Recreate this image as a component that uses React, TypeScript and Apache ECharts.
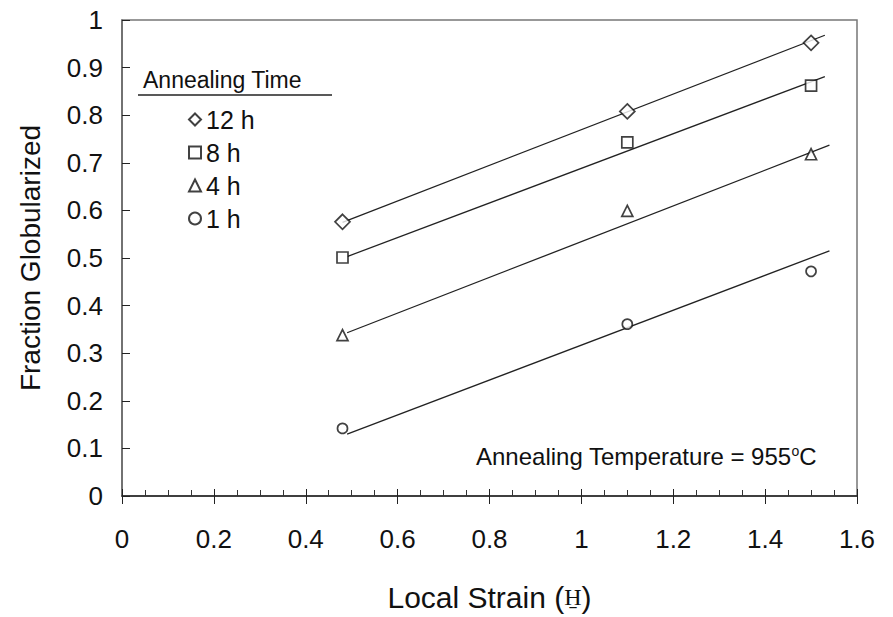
import React, { useEffect, useRef } from "react";
import * as echarts from "echarts";

// Data
const strains = [0.48, 1.1, 1.5];
const seriesNames = ["12 h", "8 h", "4 h", "1 h"];
const frac12h = [0.576, 0.808, 0.952];
const frac8h = [0.501, 0.743, 0.862];
const frac4h = [0.338, 0.599, 0.718];
const frac1h = [0.142, 0.361, 0.472];
const symbols = ["diamond", "rect", "triangle", "circle"];
const symbolSizes = [15, 11, 11, 10];

// Fitted line end points [x, y]
const fit12h = [[0.48, 0.575], [1.53, 0.968]];
const fit8h = [[0.49, 0.503], [1.53, 0.881]];
const fit4h = [[0.49, 0.343], [1.54, 0.737]];
const fit1h = [[0.49, 0.13], [1.54, 0.515]];

const xTicks = { min: 0, max: 1.6, interval: 0.2 };
const yTicks = { min: 0, max: 1, interval: 0.1 };

const FONT = "'Liberation Sans', Arial, sans-serif";

export default function App() {
  const ref = useRef<HTMLDivElement>(null);
  useEffect(() => {
    document.body.style.margin = "0";
    if (!ref.current) return;
    const chart = echarts.init(ref.current, undefined, { renderer: "svg" });
    const fracs = [frac12h, frac8h, frac4h, frac1h];
    const fits = [fit12h, fit8h, fit4h, fit1h];
    const scatterSeries = seriesNames.map((name, i) => ({
      name,
      type: "scatter",
      symbol: symbols[i],
      symbolSize: symbolSizes[i],
      itemStyle: { color: "#fff", borderColor: "#111", borderWidth: 1.7 },
      data: strains.map((x, j) => [x, fracs[i][j]]),
      z: 3,
    }));
    const lineSeries = seriesNames.map((name, i) => ({
      name: name + " fit",
      type: "line",
      symbol: "none",
      lineStyle: { color: "#222", width: 1.3 },
      data: fits[i],
      z: 2,
    }));
    const option = {
      animation: false,
      backgroundColor: "#fff",
      textStyle: { fontFamily: FONT },
      grid: {
        left: 122,
        right: 36,
        top: 20,
        bottom: 118,
        show: true,
        borderColor: "#777",
        borderWidth: 1.5,
        backgroundColor: "transparent",
      },
      legend: {
        data: seriesNames,
        orient: "vertical",
        left: 183,
        top: 102,
        itemWidth: 12,
        itemHeight: 12,
        itemGap: 8,
        textStyle: { fontSize: 25, lineHeight: 25, color: "#111", fontFamily: FONT },
        selectedMode: false,
      },
      xAxis: [
        {
          type: "value",
          min: xTicks.min,
          max: xTicks.max,
          interval: xTicks.interval,
          name: "{a|Local Strain (}{b|H̱}{a|)}",
          nameLocation: "middle",
          nameGap: 86,
          nameTextStyle: {
            rich: {
              a: { fontSize: 30, color: "#111", fontFamily: FONT },
              b: { fontSize: 24, color: "#111", fontFamily: "'Liberation Serif', serif" },
            },
          },
          axisLine: { show: true, lineStyle: { color: "#222", width: 1.5 } },
          axisTick: { show: true, inside: true, length: 7, lineStyle: { color: "#222" } },
          minorTick: { show: true, splitNumber: 4, length: 6, lineStyle: { color: "#333" } },
          splitLine: { show: false },
          axisLabel: { fontSize: 26, color: "#111", margin: 30, fontFamily: FONT },
        },
        {
          type: "value",
          position: "bottom",
          min: xTicks.min,
          max: xTicks.max,
          interval: xTicks.interval,
          axisLine: { show: false },
          axisTick: { show: true, inside: false, length: 8, lineStyle: { color: "#222" } },
          axisLabel: { show: false },
          splitLine: { show: false },
        },
      ],
      yAxis: {
        type: "value",
        min: yTicks.min,
        max: yTicks.max,
        interval: yTicks.interval,
        name: "Fraction Globularized",
        nameLocation: "middle",
        nameGap: 78,
        nameTextStyle: { fontSize: 28, color: "#111", fontFamily: FONT },
        axisLine: { show: true, lineStyle: { color: "#666", width: 1.5 } },
        axisTick: { show: true, inside: true, length: 8, lineStyle: { color: "#222" } },
        splitLine: { show: false },
        axisLabel: { fontSize: 26, color: "#111", margin: 19, fontFamily: FONT },
      },
      graphic: [
        {
          type: "text",
          left: 143,
          top: 68,
          style: { text: "Annealing Time", fontSize: 23, fill: "#111", fontFamily: FONT },
        },
        {
          type: "line",
          shape: { x1: 138, y1: 95, x2: 332, y2: 95 },
          style: { stroke: "#222", lineWidth: 1.5 },
        },
        {
          type: "text",
          left: 476,
          top: 444,
          style: {
            text: "{a|Annealing Temperature = 955}{s|o}{a|C}",
            rich: {
              a: { fontSize: 24, fill: "#111", fontFamily: FONT, verticalAlign: "bottom" },
              s: { fontSize: 14, fill: "#111", fontFamily: FONT, padding: [0, 0, 10, 0], verticalAlign: "bottom" },
            },
          },
        },
      ],
      series: [...lineSeries, ...scatterSeries],
    };
    chart.setOption(option as any);
    return () => chart.dispose();
  }, []);
  return <div ref={ref} style={{ width: 893, height: 617 }} />;
}
